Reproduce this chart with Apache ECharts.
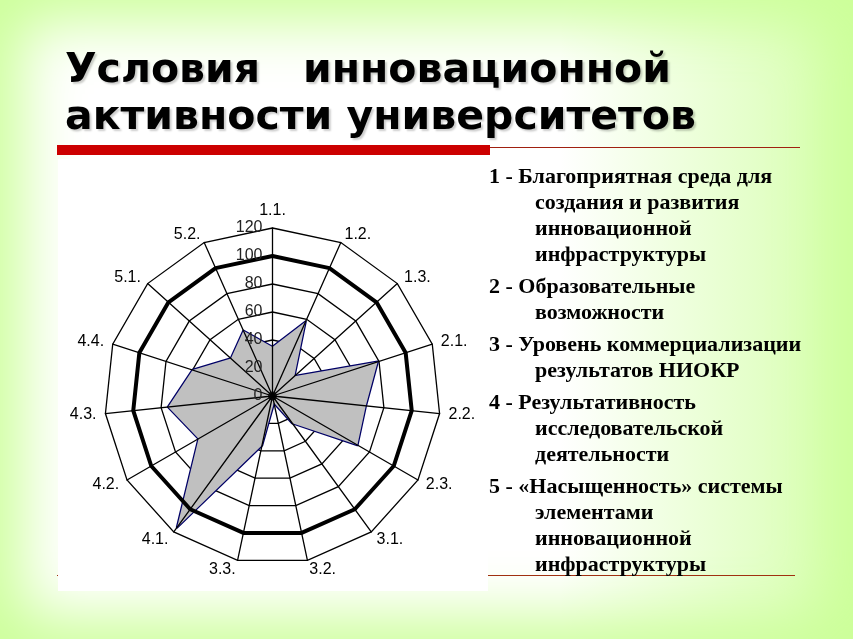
<!DOCTYPE html>
<html><head><meta charset="utf-8">
<script src="https://cdn.jsdelivr.net/npm/echarts@6/dist/echarts.min.js"></script>
<style>
html,body{margin:0;padding:0;}
body{width:853px;height:639px;overflow:hidden;background:#fff;}
#wrap{position:relative;width:853px;height:639px;
  background:linear-gradient(to right, rgba(204,255,153,0) 0px, rgba(204,255,153,0) 560px, rgba(204,255,153,0.8) 853px), #fff;
  box-shadow: inset 0 0 60px 22px #ccff99;}
#chart{position:absolute;left:0;top:0;width:853px;height:639px;}
</style></head>
<body><div id="wrap"><div id="chart"></div></div>
<script>
const categories = ['1.1.','1.2.','1.3.','2.1.','2.2.','2.3.','3.1.','3.2.','3.3.','4.1.','4.2.','4.3.','4.4.','5.1.','5.2.'];
const values = [35, 58, 21, 79, 67, 70, 24, 5, 36, 116, 61, 75, 60, 40, 51];
const targetValues = [100, 100, 100, 100, 100, 100, 100, 100, 100, 100, 100, 100, 100, 100, 100];
const radiusTicks = [0, 20, 40, 60, 80, 100, 120];
const titleLines = ['Условия   инновационной', 'активности университетов'];
const legendItems = [
  ['1 - Благоприятная среда для', 'создания и развития', 'инновационной', 'инфраструктуры'],
  ['2 - Образовательные', 'возможности'],
  ['3 - Уровень коммерциализации', 'результатов НИОКР'],
  ['4 - Результативность', 'исследовательской', 'деятельности'],
  ['5 - «Насыщенность» системы', 'элементами', 'инновационной', 'инфраструктуры']
];

const CX = 272.5, CY = 396, R = 168;
const rMax = radiusTicks[radiusTicks.length - 1];
const rStep = radiusTicks[1] - radiusTicks[0];

// ECharts radar places indicators counter-clockwise; reorder so they read clockwise
const order = [0];
for (let i = categories.length - 1; i >= 1; i--) order.push(i);
const indicator = order.map(i => ({ name: categories[i], min: 0, max: rMax }));
const dataOrdered = order.map(i => values[i]);
const targetOrdered = order.map(i => targetValues[i]);

// legend text graphics
const legendGraphics = [];
let y = 176;
legendItems.forEach((lines, k) => {
  lines.forEach((t, j) => {
    legendGraphics.push({
      type: 'text', left: j === 0 ? 489 : 535, top: y - 10, z: 10,
      style: { text: t, fill: '#000', font: 'bold 22px "Liberation Serif", "Times New Roman", serif' }
    });
    y += 26;
  });
  y += 6;
});

const fontSans = '"Liberation Sans", Arial, sans-serif';
const radarBase = {
  center: [CX, CY], radius: R, startAngle: 90, splitNumber: 6, shape: 'polygon',
  indicator: indicator, nameGap: 9,
  axisTick: { show: false }, axisLabel: { show: false }, splitArea: { show: false }
};

const chart = echarts.init(document.getElementById('chart'), null, { renderer: 'canvas' });
chart.setOption({
  backgroundColor: 'transparent',
  animation: false,
  title: {
    text: titleLines.join('\n'),
    left: 60, top: 43,
    textStyle: {
      fontSize: 41, fontWeight: 'bold', color: '#000',
      fontFamily: '"DejaVu Sans", Verdana, sans-serif', lineHeight: 47,
      textShadowColor: 'rgba(0,0,0,0.2)', textShadowOffsetX: 2, textShadowOffsetY: 2, textShadowBlur: 2
    }
  },
  graphic: [
    { type: 'line', z: -3, shape: { x1: 57, y1: 147.5, x2: 800, y2: 147.5 }, style: { stroke: '#a02010', lineWidth: 1 } },
    { type: 'line', z: -3, shape: { x1: 57, y1: 575.5, x2: 795, y2: 575.5 }, style: { stroke: '#a03010', lineWidth: 1 } },
    { type: 'rect', z: -2, shape: { x: 58, y: 159, width: 430, height: 432 }, style: { fill: '#ffffff' } },
    { type: 'rect', z: -1, shape: { x: 57, y: 145, width: 433, height: 10 }, style: { fill: '#cc0000' } }
  ].concat(legendGraphics),
  polar: { center: [CX, CY], radius: R },
  angleAxis: { type: 'value', min: 0, max: 360, startAngle: 90, show: false },
  radiusAxis: {
    type: 'value', min: 0, max: rMax, interval: rStep, z: 6,
    axisLine: { show: false }, axisTick: { show: false }, splitLine: { show: false },
    axisLabel: { show: true, fontSize: 16, color: '#222', margin: 10, fontFamily: fontSans }
  },
  radar: [
    Object.assign({}, radarBase, {
      z: 1,
      axisName: { show: false },
      axisLine: { show: false },
      splitLine: { lineStyle: { color: '#000', width: 1.3 } }
    }),
    Object.assign({}, radarBase, {
      z: 3,
      axisName: { color: '#000', fontSize: 16, fontFamily: fontSans },
      axisLine: { lineStyle: { color: '#000', width: 1.3 } },
      splitLine: { show: false }
    })
  ],
  series: [
    {
      type: 'radar', radarIndex: 0, z: 2, symbol: 'none', silent: true,
      lineStyle: { color: '#000066', width: 2.5, opacity: 1 },
      areaStyle: { color: '#c0c0c0', opacity: 1 },
      data: [{ value: dataOrdered }]
    },
    {
      type: 'radar', radarIndex: 0, z: 4, symbol: 'none', silent: true,
      lineStyle: { color: '#000', width: 4, opacity: 1 },
      data: [{ value: targetOrdered }]
    },
    {
      type: 'scatter', coordinateSystem: 'polar', z: 5, symbolSize: 9, silent: true,
      itemStyle: { color: '#000' }, data: [[radiusTicks[0], 0]]
    }
  ]
});
</script>
</body></html>
